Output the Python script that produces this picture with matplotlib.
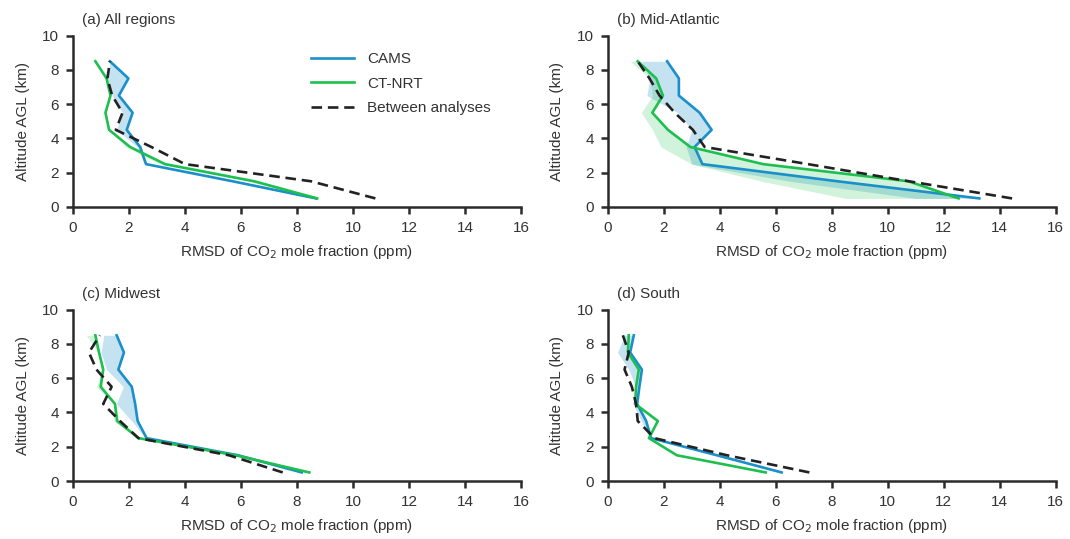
import matplotlib
matplotlib.use('Agg')
import matplotlib.pyplot as plt
import numpy as np

plt.rcParams['font.family'] = ['Liberation Sans', 'DejaVu Sans']
plt.rcParams['font.size'] = 11
plt.rcParams['text.color'] = '#333333'
plt.rcParams['axes.labelcolor'] = '#333333'
plt.rcParams['xtick.color'] = '#2b2b2b'
plt.rcParams['ytick.color'] = '#2b2b2b'
plt.rcParams['xtick.labelcolor'] = '#333333'
plt.rcParams['ytick.labelcolor'] = '#333333'

# altitude levels (km)
alt = [0.5, 1.5, 2.5, 3.5, 4.5, 5.5, 6.5, 7.5, 8.5]

titles = ['(a) All regions', '(b) Mid-Atlantic', '(c) Midwest', '(d) South']

# RMSD values (ppm), bottom to top
cams = [
    [8.68, 5.7, 2.61, 2.40, 1.92, 2.13, 1.64, 1.98, 1.32],
    [13.27, 8.2, 3.38, 3.10, 3.71, 3.28, 2.54, 2.54, 2.12],
    [8.17, 5.9, 2.63, 2.31, 2.22, 2.10, 1.62, 1.82, 1.56],
    [6.21, 3.9, 1.55, 1.37, 1.05, 1.13, 1.22, 0.80, 0.93],
]
ctnrt = [
    [8.72, 6.47, 3.29, 2.04, 1.29, 1.16, 1.34, 1.20, 0.80],
    [12.53, 10.74, 5.55, 2.95, 2.15, 1.59, 1.97, 1.73, 1.07],
    [8.44, 5.81, 2.34, 1.58, 1.50, 0.99, 1.08, 0.93, 0.80],
    [5.64, 2.47, 1.47, 1.79, 0.98, 1.01, 1.11, 0.72, 0.75],
]
between = [
    [10.8, 8.5, 4.0, 2.8, 1.53, 1.77, 1.40, 1.23, 1.32],
    [14.44, 10.75, 7.15, 3.46, 3.04, 2.39, 1.85, 1.49, 1.07],
    [7.49, 5.57, 2.34, 1.68, 1.08, 1.38, 0.84, 0.57, 0.96],
    [7.20, 4.26, 1.67, 1.07, 1.01, 0.86, 0.60, 0.75, 0.54],
]
# other edge of the shaded spread
cams_edge = [
    [8.6, 5.6, 2.55, 2.3, 1.55, 1.77, 1.40, 1.23, 1.32],
    [11.0, 6.5, 3.0, 2.8, 3.0, 2.5, 1.4, 1.5, 1.2],
    [8.1, 5.85, 2.6, 2.1, 1.55, 1.8, 1.2, 1.0, 1.1],
    [6.1, 3.85, 1.5, 1.2, 0.9, 1.0, 0.75, 0.35, 0.6],
]
ctnrt_edge = [
    [8.6, 6.3, 3.1, 1.9, 1.25, 1.12, 1.3, 1.15, 0.8],
    [8.5, 5.5, 3.0, 1.9, 1.6, 1.2, 1.6, 1.5, 0.8],
    [8.4, 5.8, 2.3, 1.46, 1.45, 0.84, 1.05, 0.9, 0.48],
    [5.6, 2.45, 1.45, 1.7, 0.95, 1.0, 1.05, 0.7, 0.7],
]

blue = '#1a8fc9'
green = '#1dbf4f'

fig = plt.figure(figsize=(10.7, 5.39), dpi=100)
lefts = [0.0682, 0.568, 0.0682, 0.568]
bottoms = [0.616, 0.616, 0.1076, 0.1076]

for i in range(4):
    ax = fig.add_axes([lefts[i], bottoms[i], 0.4187, 0.318])
    ax.fill_betweenx(alt, cams[i], cams_edge[i], color=blue, alpha=0.25, lw=0)
    ax.fill_betweenx(alt, ctnrt[i], ctnrt_edge[i], color=green, alpha=0.2, lw=0)
    ax.plot(cams[i], alt, color=blue, lw=1.9, label='CAMS')
    ax.plot(ctnrt[i], alt, color=green, lw=1.9, label='CT-NRT')
    ax.plot(between[i], alt, color='#222222', lw=1.9, ls=(0, (4, 2.2)),
            label='Between analyses')
    ax.set_xlim(0, 16)
    ax.set_ylim(0, 10)
    ax.set_xticks(np.arange(0, 17, 2))
    ax.set_yticks(np.arange(0, 11, 2))
    for s in ['top', 'right']:
        ax.spines[s].set_visible(False)
    for s in ['left', 'bottom']:
        ax.spines[s].set_linewidth(1.8)
        ax.spines[s].set_color('#2b2b2b')
    ax.tick_params(width=1.8, length=5, pad=5, labelsize=11)
    ax.set_xlabel('RMSD of CO$_2$ mole fraction (ppm)', labelpad=6)
    ax.set_ylabel('Altitude AGL (km)', labelpad=9)
    ax.text(0.02, 1.05, titles[i], transform=ax.transAxes, fontsize=11,
            va='bottom', ha='left')
    if i == 0:
        ax.legend(loc='upper left', bbox_to_anchor=(0.5, 0.985), frameon=False,
                  handlelength=2.8, handletextpad=0.9, labelspacing=0.7,
                  fontsize=11)

plt.savefig('out.png', dpi=100)
